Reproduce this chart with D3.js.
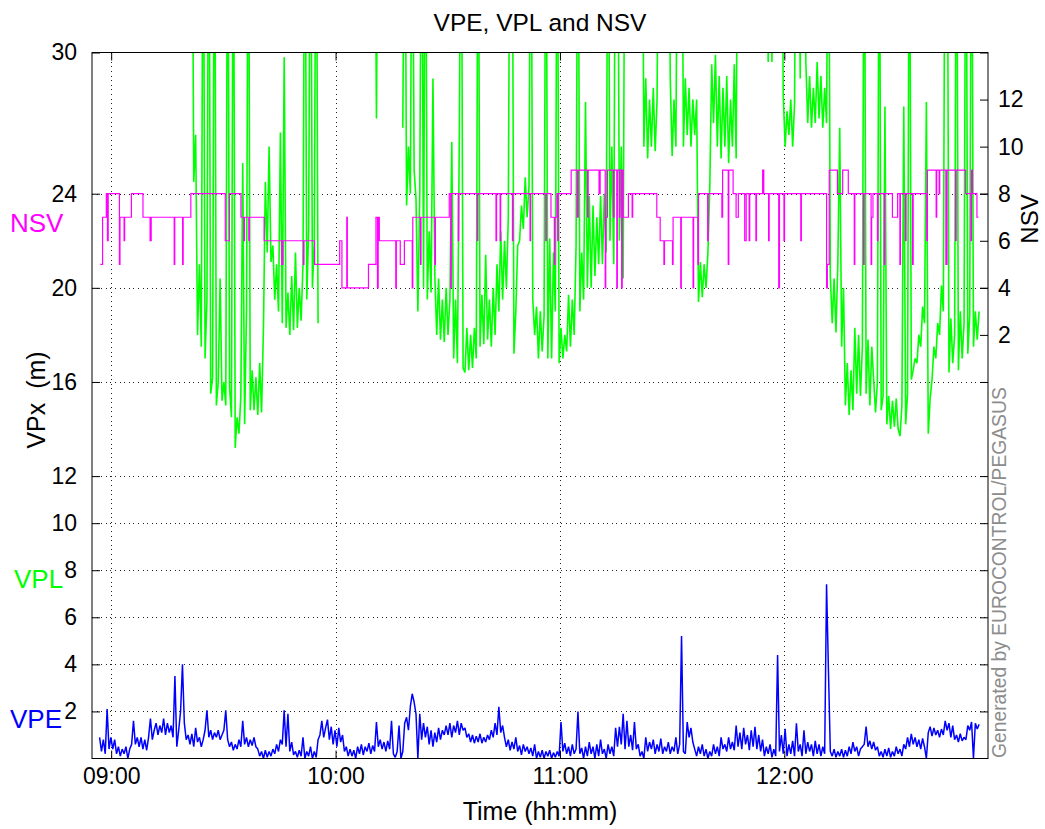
<!DOCTYPE html>
<html><head><meta charset="utf-8">
<script src="https://cdn.jsdelivr.net/npm/d3@7"></script>
<style>body{margin:0;background:#fff;} svg{display:block;} text{font-family:"Liberation Sans",Arial,Helvetica,sans-serif;}</style>
</head><body><div id="chart"></div>
<script>
// ---------- data ----------
const timeTicks = [0, 60, 120, 180];                 // minutes after 09:00
const timeTickLabels = ["09:00", "10:00", "11:00", "12:00"];
const vpxTicks = [2, 4, 6, 8, 10, 12, 16, 20, 24, 30];
const nsvTicks = [2, 4, 6, 8, 10, 12];

const sampleStep = 0.5036;   // minutes between read samples
const vpeStart = -3.10;      // minutes after 09:00
const vplStart = 21.58;

// VPE (m)
const vpe = [
0.9,0.3,0.8,0.2,2.1,0.4,0.9,0.4,0.8,0.2,
0.5,0.1,0.4,0.2,0.5,0.0,0.4,0.6,1.6,0.6,
0.9,0.5,0.9,0.4,0.8,0.35,0.9,1.7,0.8,1.2,
1.5,1.0,1.4,1.1,1.7,1.0,1.5,1.1,1.4,0.9,
3.5,0.5,1.2,2.0,4.0,1.5,0.8,1.0,0.6,1.05,
0.5,1.3,0.7,0.9,0.5,0.8,1.2,2.05,0.9,1.2,
0.8,1.1,0.9,1.2,0.8,1.0,1.2,2.05,0.8,0.5,
0.7,0.35,0.6,0.4,0.8,0.5,1.6,0.6,0.9,0.5,
0.8,0.55,0.9,0.5,0.4,0.1,0.3,0.0,0.35,0.05,
0.3,0.1,0.4,0.2,0.6,0.3,0.8,0.6,2.05,0.5,
1.9,0.3,0.7,0.15,0.3,0.05,0.35,0.1,0.9,0.0,
0.3,0.1,0.5,0.0,0.3,0.05,0.8,1.0,1.6,0.9,
1.3,1.65,0.8,1.35,0.6,1.2,0.5,1.3,0.7,1.0,
0.3,0.5,0.1,0.4,0.1,0.35,0.0,0.5,0.2,0.6,
0.15,0.5,0.3,0.65,0.2,0.55,0.3,1.55,0.5,0.8,
0.4,0.7,0.3,0.75,0.4,1.6,0.2,0.05,0.3,1.4,
0.0,0.3,1.5,1.75,1.2,2.2,2.75,2.4,1.9,0.0,
1.9,0.8,1.5,0.9,1.35,0.6,1.2,0.5,1.1,0.7,
1.3,0.8,1.2,1.0,1.4,1.0,1.5,0.9,1.4,1.1,
1.6,1.0,1.5,1.2,1.3,0.9,1.05,0.7,1.0,0.65,
0.95,0.7,1.05,0.65,0.9,0.7,1.0,0.8,1.2,0.9,
1.5,1.0,2.2,1.1,1.4,0.9,0.5,0.8,0.35,0.7,
0.4,0.9,0.3,0.55,0.15,0.6,0.3,0.5,0.2,0.45,
0.1,0.6,0.0,0.3,0.05,0.35,0.0,0.3,0.1,0.35,
0.0,0.25,0.05,0.3,0.1,1.55,0.3,0.65,0.2,0.5,
0.1,0.6,0.2,0.4,2.0,0.2,0.45,0.0,0.5,0.1,
0.7,0.2,0.5,0.0,0.6,0.1,0.8,0.2,0.4,0.0,
0.6,0.2,0.5,0.1,1.3,0.5,1.35,0.6,1.9,0.4,
1.6,0.5,1.0,0.35,1.55,0.4,0.6,0.1,0.3,0.0,
0.9,0.3,0.7,0.4,0.8,0.2,0.6,0.3,0.85,0.2,
0.5,0.3,0.7,0.2,0.5,0.3,0.9,0.2,0.6,5.2,
0.3,0.2,1.55,0.9,1.3,0.7,0.4,0.1,0.5,0.2,
0.6,0.1,0.4,0.0,0.3,0.1,0.6,0.2,0.5,0.1,
0.9,0.4,0.6,0.3,0.9,0.4,0.7,0.35,1.4,0.5,
1.1,0.4,1.3,0.6,1.0,0.35,1.2,0.5,1.35,0.4,
1.0,0.3,0.8,0.1,0.5,0.2,0.6,0.05,0.4,0.1,
4.4,0.3,1.0,0.2,1.26,0.1,0.6,0.2,0.75,0.1,
1.5,0.3,0.6,0.1,1.2,0.2,0.7,0.3,0.6,0.1,
0.75,0.2,0.6,0.1,0.5,0.2,7.4,3.75,0.3,0.1,
0.4,0.05,0.3,0.1,0.4,0.05,0.35,0.1,0.5,0.2,
0.7,0.3,0.5,0.1,0.4,0.5,0.6,1.36,0.5,0.75,
0.4,0.7,0.35,0.5,0.1,0.3,0.05,0.4,0.1,0.45,
0.05,0.3,0.1,0.5,0.2,0.4,0.1,0.6,0.4,0.9,
0.5,1.05,0.6,0.9,0.5,0.8,0.4,0.85,0.5,0.0,
1.1,1.35,0.95,1.3,1.0,1.2,0.9,1.25,1.0,1.6,
1.2,1.5,0.9,1.4,0.8,1.0,0.7,1.05,0.75,0.9,
0.8,1.4,1.2,1.55,0.0,1.5,1.25,1.45
];

// VPL (m); values above 30 leave the plot at the top, null = no data
const vpl = [
40,24.5,26.5,18.0,21.0,17.5,40,17.0,19.5,40,
15.5,16.2,40,15.0,16.0,20.4,15.2,16.0,15.0,40,
15.8,14.5,40,13.2,14.5,13.8,15.4,25.3,14.2,19.0,
40,14.8,16.5,14.8,16.2,14.6,16.8,14.7,18.3,24.5,
21.5,26.0,21.1,21.8,19.5,21.0,19.0,26.6,18.5,29.8,
18.3,19.8,18.0,20.5,18.2,21.5,18.3,20.0,18.6,21.0,
40,19.5,22.5,40,20.0,22.0,40,18.5,null,null,
null,null,null,null,null,null,null,null,null,null,
null,null,null,null,null,null,null,null,null,null,
null,null,null,null,null,null,null,40,27.2,40,
null,null,null,null,null,null,null,null,null,null,
null,null,26.8,40,23.5,26.0,24.0,40,25.0,23.8,
19.0,24.0,40,20.0,40,19.5,22.4,19.8,28.9,20.5,
18.0,20.4,17.8,19.5,17.7,20.0,18.0,19.5,26.2,17.0,
19.5,16.8,26.5,40,16.6,16.4,18.3,16.5,18.0,16.6,
18.3,17.0,40,17.5,19.7,17.6,21.4,17.8,19.5,17.5,
20.0,18.0,21.0,19.0,22.4,19.5,22.0,20.0,23.0,40,
40,17.2,19.0,21.8,22.0,23.5,22.5,24.7,23.0,24.3,
40,19.5,18.0,19.2,17.0,19.0,17.3,18.8,40,17.0,
22.1,17.0,21.5,19.0,40,16.8,18.3,17.0,18.0,17.3,
19.7,17.5,19.5,18.0,21.8,40,19.0,21.5,19.5,27.9,
20.0,23.9,20.0,23.5,20.5,23.0,21.0,23.9,21.0,24.0,
21.5,40,22.0,26.0,21.0,40,40,22.0,26.0,20.4,
40,40,40,40,40,40,40,40,40,40,
26.0,28.9,25.5,28.0,26.0,28.5,25.8,28.0,40,40,
40,40,40,40,28.9,25.6,28.0,26.0,40,40,
40,26.0,28.9,26.5,28.5,26.0,28.0,26.5,28.0,19.4,
21.1,19.6,21.0,20.0,21.5,24.3,29.5,27.0,29.9,26.0,
29.0,25.5,28.5,26.0,29.0,25.3,28.0,26.0,29.5,25.5,
40,40,40,40,40,40,40,40,40,40,
40,40,40,40,40,40,29.6,40,29.6,40,
40,40,40,40,28.2,26.0,27.5,26.5,28.0,26.0,
27.8,40,40,28.9,40,40,29.6,27.0,29.0,26.8,
28.5,27.0,29.6,27.2,29.0,26.8,28.5,27.0,40,20.5,
18.5,20.4,18.1,21.1,26.8,17.5,20.0,15.0,16.8,14.6,
16.5,14.8,18.3,15.5,18.0,15.4,17.5,40,15.5,17.8,
15.0,17.5,16.1,14.7,16.0,40,14.8,15.4,27.7,14.2,
15.4,14.0,15.2,14.1,15.3,14.0,13.7,15.0,27.7,14.2,
15.5,40,16.1,16.5,17.0,16.8,18.0,17.5,19.2,18.5,
27.9,13.8,15.3,16.1,17.5,17.0,18.5,18.0,20.1,19.0,
40,40,16.4,18.7,16.8,18.0,40,16.5,19.0,17.0,
18.5,40,17.2,18.8,40,17.5,19.0,17.8,19.0
];

// NSV steps: [minutes after 09:00, satellites] (value holds until next step)
const nsvSteps = [
[-2.9,5],[-2.3,7],[-1.3,8],[-1.0,6],[-0.8,8],[2.2,5],[2.35,7],[3.45,6],[3.6,7],[5.4,8],
[8.5,7],[10.4,6],[10.7,7],[16.85,5],[17.0,7],[19.1,5],[19.25,7],[21.3,8],[30.5,6],[31.6,8],
[34.7,7],[35.5,6],[35.65,7],[36.8,6],[36.95,7],[40.9,6],[45.6,5],[45.95,6],[51.4,5],[51.55,6],
[54.4,5],[61.1,6],[61.7,4],[63.0,7],[63.15,4],[68.8,5],[70.8,7],[71.2,4],[71.4,7],[71.7,6],
[76.1,4],[76.25,6],[77.3,5],[78.4,6],[80.5,4],[80.65,7],[82.7,5],[82.85,7],[86.55,5],[86.7,7],
[90.4,8],[90.8,4],[90.95,8],[92.8,6],[92.95,8],[97.9,6],[98.05,8],[102.9,6],[103.05,8],[104.0,6],
[104.15,8],[107.3,6],[107.45,8],[112.0,6],[112.15,8],[116.2,6],[116.35,8],[117.6,7],[118.5,5],[118.65,7],
[119.2,8],[119.4,6],[119.55,8],[123.0,9],[124.6,7],[124.9,9],[127.4,7],[127.55,9],[130.45,8],[130.75,9],
[132.1,4],[132.25,7],[132.7,9],[134.3,7],[134.45,9],[135.2,4],[135.35,9],[135.9,7],[136.05,9],[136.5,4],
[136.65,9],[136.9,7],[138.3,8],[139.3,7],[139.45,8],[145.9,7],[146.8,6],[147.8,5],[147.95,6],[150.1,5],
[150.25,7],[152.3,4],[152.45,7],[155.6,4],[155.75,7],[156.9,5],[157.05,8],[159.5,6],[159.65,8],[163.3,7],
[163.5,9],[165.0,5],[165.15,9],[166.3,8],[167.1,7],[167.7,8],[169.4,6],[169.8,8],[170.6,6],[170.75,8],
[172.4,6],[172.55,8],[174.2,9],[174.5,8],[175.8,6],[175.95,8],[178.5,4],[178.7,8],[179.9,6],[180.05,8],
[184.4,6],[184.55,8],[191.3,4],[191.5,5],[192.0,9],[194.2,8],[195.6,9],[197.1,8],[198.7,5],[198.85,8],
[201.2,5],[201.35,8],[203.2,5],[203.35,7],[203.7,8],[204.9,6],[205.05,8],[206.7,5],[206.85,8],[208.9,7],
[210.3,8],[210.9,5],[211.05,8],[212.4,6],[212.55,8],[214.3,5],[214.45,8],[218.1,6],[218.25,9],[220.6,7],
[220.75,9],[221.4,8],[221.55,9],[223.2,5],[223.5,9],[225.8,6],[225.95,9],[228.5,8],[229.9,6],[230.05,9],
[230.3,8],[231.5,7],[231.9,7]
];

// ---------- layout ----------
const W = 1045, H = 829;
const L = 92, R = 988, T = 52.5, B = 758.5;
const FONT = '"Liberation Sans", Arial, Helvetica, sans-serif';

const x = d3.scaleLinear().domain([-5.13, 234.46]).range([L, R]);
const y = d3.scaleLinear().domain([0, 30]).range([B, T]);
const yN = d3.scaleLinear().domain([-16, 14]).range([B, T]);

const svg = d3.select("#chart").append("svg").attr("width", W).attr("height", H);
svg.append("rect").attr("width", W).attr("height", H).attr("fill", "#fff");
svg.append("defs").append("clipPath").attr("id", "clip")
  .append("rect").attr("x", L).attr("y", T).attr("width", R - L).attr("height", B - T);

// grid
const grid = svg.append("g").attr("stroke", "#222").attr("stroke-width", 1)
  .attr("stroke-dasharray", "1,3.6").attr("shape-rendering", "crispEdges");
grid.selectAll("line.gv").data(timeTicks).join("line").attr("class", "gv")
  .attr("x1", d => Math.round(x(d)) + 0.5).attr("x2", d => Math.round(x(d)) + 0.5)
  .attr("y1", T).attr("y2", B);
grid.selectAll("line.gh").data(vpxTicks.filter(d => d < 30)).join("line").attr("class", "gh")
  .attr("x1", L).attr("x2", R)
  .attr("y1", d => Math.round(y(d)) + 0.5).attr("y2", d => Math.round(y(d)) + 0.5);

// series
const plot = svg.append("g").attr("clip-path", "url(#clip)");
const vpePts = vpe.map((v, i) => [vpeStart + i * sampleStep, v]);
const vplPts = vpl.map((v, i) => [vplStart + i * sampleStep, v]);

plot.append("path").datum(vpePts)
  .attr("fill", "none").attr("stroke", "#0000ff").attr("stroke-width", 1.5)
  .attr("stroke-linejoin", "bevel")
  .attr("d", d3.line().x(d => x(d[0])).y(d => y(d[1])));

plot.append("path").datum(vplPts)
  .attr("fill", "none").attr("stroke", "#00ff00").attr("stroke-width", 1.6)
  .attr("stroke-linejoin", "bevel")
  .attr("d", d3.line().defined(d => d[1] !== null).x(d => x(d[0])).y(d => y(d[1])));

plot.append("path").datum(nsvSteps)
  .attr("fill", "none").attr("stroke", "#ff00ff").attr("stroke-width", 1.2)
  .attr("d", d3.line().curve(d3.curveStepAfter).x(d => x(d[0])).y(d => yN(d[1])));

// axes
function styleAxis(g, size) {
  g.select(".domain").remove();
  g.selectAll(".tick line").attr("stroke", "#000");
  g.selectAll(".tick text").attr("fill", "#000").attr("font-size", size).attr("font-family", FONT);
}
svg.append("g").attr("transform", `translate(${L},0)`)
  .call(d3.axisLeft(y).tickValues(vpxTicks).tickSizeInner(-8).tickSizeOuter(0).tickPadding(15))
  .call(g => styleAxis(g, 23));
svg.append("g").attr("transform", `translate(${R},0)`)
  .call(d3.axisRight(y).tickValues(vpxTicks).tickSizeInner(-8).tickSizeOuter(0).tickFormat(""))
  .call(g => styleAxis(g, 23));
svg.append("g").attr("transform", `translate(${R},0)`)
  .call(d3.axisRight(yN).tickValues(nsvTicks).tickSizeInner(-8).tickSizeOuter(0).tickPadding(10))
  .call(g => styleAxis(g, 23));
svg.append("g").attr("transform", `translate(0,${B})`)
  .call(d3.axisBottom(x).tickValues(timeTicks).tickFormat((d, i) => timeTickLabels[i])
    .tickSizeInner(-8).tickSizeOuter(0).tickPadding(9))
  .call(g => styleAxis(g, 23));
svg.append("g").attr("transform", `translate(0,${T})`)
  .call(d3.axisTop(x).tickValues(timeTicks).tickSizeInner(-8).tickSizeOuter(0).tickFormat(""))
  .call(g => styleAxis(g, 23));

// frame
svg.append("rect").attr("x", L).attr("y", T).attr("width", R - L).attr("height", B - T)
  .attr("fill", "none").attr("stroke", "#000").attr("stroke-width", 1);

// texts
svg.append("text").attr("x", 540).attr("y", 31).attr("text-anchor", "middle")
  .attr("font-size", 24.5).attr("fill", "#000").text("VPE, VPL and NSV");
svg.append("text").attr("x", 540).attr("y", 820).attr("text-anchor", "middle")
  .attr("font-size", 25).attr("fill", "#000").text("Time (hh:mm)");
svg.append("text").attr("transform", "translate(45,400) rotate(-90)").attr("text-anchor", "middle")
  .attr("font-size", 25).attr("fill", "#000").attr("xml:space", "preserve").text("VPx  (m)");
svg.append("text").attr("transform", "translate(1038,219) rotate(-90)").attr("text-anchor", "middle")
  .attr("font-size", 24).attr("fill", "#000").text("NSV");
svg.append("text").attr("transform", "translate(1006,758) rotate(-90)").attr("text-anchor", "start")
  .attr("font-size", 19.3).attr("fill", "#8c8c8c").text("Generated by EUROCONTROL/PEGASUS");

svg.append("text").attr("x", 10).attr("y", 232).attr("font-size", 26).attr("fill", "#ff00ff").text("NSV");
svg.append("text").attr("x", 14).attr("y", 588).attr("font-size", 26).attr("fill", "#00ff00").text("VPL");
svg.append("text").attr("x", 10).attr("y", 728).attr("font-size", 26).attr("fill", "#0000ff").text("VPE");
</script></body></html>
